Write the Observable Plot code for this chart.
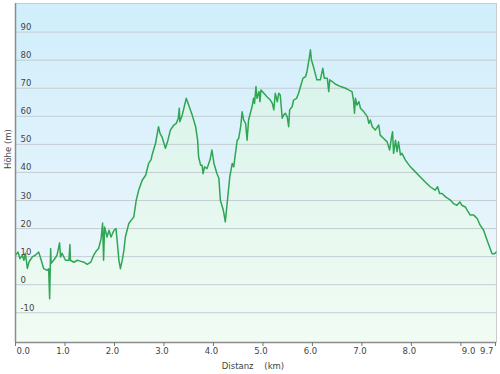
<!DOCTYPE html>
<html>
<head>
<meta charset="utf-8">
<script src="https://cdn.jsdelivr.net/npm/d3@7"></script>
<script src="https://cdn.jsdelivr.net/npm/@observablehq/plot@0.6"></script>
<style>
  html, body { margin: 0; padding: 0; background: #fff; }
  svg text { white-space: pre; }
</style>
</head>
<body>
<div id="chart"></div>
<script>
const km = [
  0.00,0.05,0.09,0.14,0.17,0.20,0.24,0.27,0.34,0.40,
  0.47,0.52,0.57,0.64,0.67,0.69,0.71,0.72,0.77,0.84,
  0.89,0.91,0.94,1.01,1.08,1.10,1.11,1.18,1.25,1.31,
  1.38,1.45,1.52,1.58,1.64,1.68,1.73,1.76,1.78,1.80,
  1.85,1.89,1.93,1.99,2.03,2.05,2.09,2.12,2.16,2.19,
  2.22,2.29,2.34,2.39,2.44,2.49,2.56,2.63,2.69,2.74,
  2.76,2.83,2.89,2.92,2.96,3.03,3.08,3.13,3.20,3.25,
  3.29,3.31,3.32,3.37,3.41,3.45,3.50,3.57,3.64,3.68,
  3.70,3.74,3.77,3.79,3.82,3.87,3.93,3.97,4.01,4.07,
  4.11,4.14,4.20,4.24,4.29,4.33,4.38,4.41,4.44,4.48,
  4.51,4.55,4.58,4.61,4.65,4.68,4.71,4.78,4.81,4.83,
  4.86,4.88,4.92,4.94,4.96,5.02,5.08,5.15,5.19,5.22,
  5.25,5.29,5.32,5.35,5.39,5.42,5.45,5.49,5.52,5.54,
  5.59,5.62,5.68,5.72,5.76,5.81,5.86,5.89,5.93,5.96,
  5.98,6.03,6.09,6.16,6.21,6.24,6.30,6.33,6.35,6.40,
  6.46,6.57,6.67,6.73,6.80,6.83,6.85,6.87,6.90,6.94,
  6.97,7.04,7.11,7.14,7.17,7.21,7.27,7.34,7.37,7.44,
  7.51,7.56,7.60,7.62,7.64,7.68,7.71,7.74,7.78,7.81,
  7.88,7.98,8.08,8.18,8.28,8.38,8.48,8.53,8.57,8.62,
  8.69,8.79,8.85,8.92,8.98,9.02,9.09,9.13,9.19,9.26,
  9.33,9.39,9.46,9.53,9.58,9.63,9.68,9.71
];
const elev = [
  10.5,11.6,9.3,10.5,8.7,11.2,5.8,8.0,9.9,10.5,
  11.6,8.7,5.7,5.1,5.7,-5.0,12.9,7.6,8.7,10.5,
  14.9,9.9,11.2,8.7,8.7,14.3,8.7,8.0,8.7,8.4,
  8.0,7.2,8.0,10.5,12.2,12.9,16.4,22.0,8.7,20.6,
  17.0,19.4,17.0,19.4,20.0,16.4,8.7,5.7,9.0,12.2,
  17.0,21.8,23.0,24.1,30.1,33.7,37.2,39.0,43.2,44.6,
  46.2,50.4,56.3,53.9,52.7,48.6,51.5,55.1,56.9,57.5,
  59.3,62.9,58.1,60.5,63.4,66.4,64.0,60.5,56.3,51.5,
  45.6,42.6,42.6,39.6,42.0,41.4,44.4,48.0,43.2,39.6,
  37.9,30.1,26.5,22.4,31.3,38.4,43.2,42.0,46.2,51.5,
  52.1,56.3,61.6,58.7,57.5,51.5,58.7,63.4,66.4,64.6,
  70.6,66.4,68.8,65.2,69.4,68.2,67.0,65.8,64.6,62.3,
  68.2,65.2,68.2,67.6,59.3,60.5,61.1,59.9,56.3,62.3,
  63.4,65.8,66.4,68.2,70.6,73.6,74.1,75.9,80.1,83.7,
  80.1,77.1,73.0,73.0,77.1,73.6,73.6,68.8,73.0,72.4,
  71.5,70.6,70.0,69.4,68.8,65.8,61.1,66.4,64.0,65.2,
  62.9,61.6,59.9,57.5,58.7,56.3,55.1,56.9,53.3,52.1,
  50.9,48.0,52.7,54.5,46.8,51.5,47.4,50.9,46.2,46.8,
  44.4,42.0,40.2,38.4,36.6,34.9,33.7,34.9,32.5,32.5,
  31.3,30.1,28.9,28.3,29.5,28.3,27.7,26.5,24.8,24.8,
  23.6,21.2,19.4,15.8,13.4,11.0,11.0,11.6
];
const yTicks = [-10, 0, 10, 20, 30, 40, 50, 60, 70, 80, 90];
const xTicks = [0, 1, 2, 3, 4, 5, 6, 7, 8, 9, 9.7];
const xLabel = "Distanz    (km)";
const yLabel = "Höhe (m)";
const xDomain = [0, 9.72];
const yDomain = [-20.6, 100.2];

const data = km.map((d, i) => ({km: d, m: elev[i]}));
const fmt = d3.format(".1f");
const font = "DejaVu Sans";

const midTicks = xTicks.filter(d => d > 0 && d < 9);
const startTicks = xTicks.filter(d => d === 0 || d === 9);
const endTicks = xTicks.filter(d => d === 9.7);

const chart = Plot.plot({
  width: 500,
  height: 374,
  marginLeft: 15,
  marginRight: 4,
  marginTop: 3,
  marginBottom: 32,
  style: {fontFamily: font, background: "#fff"},
  x: {domain: xDomain, axis: null},
  y: {domain: yDomain, axis: null},
  marks: [
    Plot.frame({fill: "url(#bgGrad)", stroke: "#c8ccce"}),
    Plot.areaY(data, {x: "km", y1: yDomain[0], y2: "m", fill: "url(#areaGrad)"}),
    Plot.ruleY(yTicks, {stroke: "#c3cdd2", strokeWidth: 1}),
    Plot.lineY(data, {x: "km", y: "m", stroke: "#2ea653", strokeWidth: 1.5, strokeLinejoin: "round"}),
    Plot.ruleX([xDomain[0]], {stroke: "#8c8c8c", strokeWidth: 1.5}),
    Plot.ruleY([yDomain[0]], {stroke: "#8c8c8c", strokeWidth: 1.5}),
    Plot.axisX(xTicks, {tickSize: 4, fill: "none", stroke: "#777", label: null}),
    Plot.text(yTicks, {y: d => d, text: d => String(d), frameAnchor: "left", textAnchor: "start", lineAnchor: "bottom", dx: 5, dy: -2, fontSize: 8.5, fill: "#444"}),
    Plot.text(midTicks, {x: d => d, text: fmt, frameAnchor: "bottom", lineAnchor: "top", dy: 5, dx: -2, fontSize: 8.5, fill: "#444"}),
    Plot.text(startTicks, {x: d => d, text: fmt, frameAnchor: "bottom", lineAnchor: "top", textAnchor: "start", dy: 5, dx: 1, fontSize: 8.5, fill: "#444"}),
    Plot.text(endTicks, {x: d => d, text: fmt, frameAnchor: "bottom", lineAnchor: "top", textAnchor: "end", dy: 5, dx: -2, fontSize: 8.5, fill: "#444"}),
    Plot.text([xLabel], {text: d => d, frameAnchor: "bottom", lineAnchor: "middle", dy: 24, dx: -3, fontSize: 8.5, fill: "#444"}),
    Plot.text([yLabel], {text: d => d, frameAnchor: "left", rotate: -90, dx: -7.5, dy: -4, fontSize: 8.5, fill: "#444"})
  ]
});

const svg = d3.select(chart);
const defs = svg.insert("defs", ":first-child");
const bg = defs.append("linearGradient").attr("id", "bgGrad")
  .attr("x1", 0).attr("y1", 0).attr("x2", 0).attr("y2", 1);
bg.append("stop").attr("offset", "0%").attr("stop-color", "#d0eefb");
bg.append("stop").attr("offset", "55%").attr("stop-color", "#e2f3fb");
bg.append("stop").attr("offset", "100%").attr("stop-color", "#f3fafd");
const ag = defs.append("linearGradient").attr("id", "areaGrad")
  .attr("gradientUnits", "userSpaceOnUse")
  .attr("x1", 0).attr("y1", 40).attr("x2", 0).attr("y2", 342);
ag.append("stop").attr("offset", "0%").attr("stop-color", "#d6f2ea");
ag.append("stop").attr("offset", "100%").attr("stop-color", "#f1fcf3");

document.getElementById("chart").appendChild(chart);
</script>
</body>
</html>
